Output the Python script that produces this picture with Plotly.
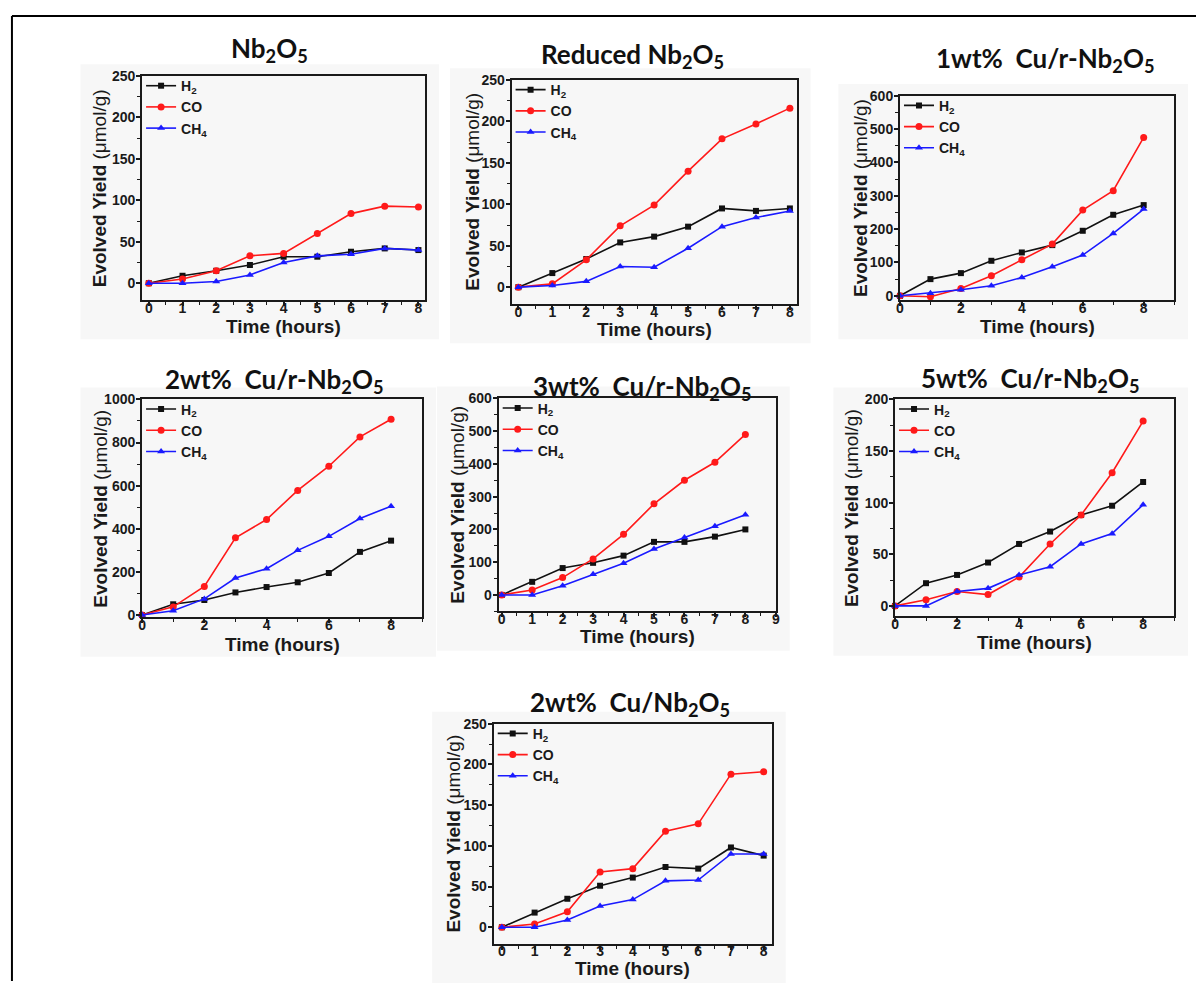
import plotly.graph_objects as go

# ---- data: cumulative evolved yield (umol/g) vs irradiation time (h) ----
hours = [0, 1, 2, 3, 4, 5, 6, 7, 8]

nb2o5_h2 = [0, 9, 15, 22, 32, 32, 38, 42, 40]
nb2o5_co = [0, 5, 15, 33, 36, 60, 84, 93, 92]
nb2o5_ch4 = [0, 0, 2, 10, 25, 33, 35, 42, 40]

reduced_h2 = [0, 17, 34, 54, 61, 73, 95, 92, 95]
reduced_co = [0, 4, 33, 74, 99, 140, 179, 197, 216]
reduced_ch4 = [0, 2, 7, 25, 24, 47, 73, 84, 92]

cu1_h2 = [0, 50, 68, 105, 130, 152, 195, 243, 272]
cu1_co = [0, -3, 22, 60, 108, 155, 257, 315, 475]
cu1_ch4 = [0, 8, 18, 30, 55, 87, 122, 187, 260]

cu2_h2 = [0, 50, 70, 105, 130, 152, 195, 293, 345]
cu2_co = [0, 38, 133, 358, 443, 578, 690, 826, 908]
cu2_ch4 = [0, 20, 75, 172, 215, 300, 365, 448, 505]

cu3_h2 = [0, 40, 82, 98, 120, 162, 162, 178, 200]
cu3_co = [0, 15, 53, 110, 185, 278, 350, 405, 490]
cu3_ch4 = [0, 0, 28, 63, 97, 140, 175, 210, 245]

cu5_h2 = [0, 22, 30, 42, 60, 72, 88, 97, 120]
cu5_co = [0, 6, 14, 11, 28, 60, 88, 129, 179]
cu5_ch4 = [0, 0, 14, 17, 30, 38, 60, 70, 98]

cu2_unreduced_h2 = [0, 18, 35, 51, 61, 74, 72, 98, 88]
cu2_unreduced_co = [0, 4, 19, 68, 72, 118, 127, 188, 191]
cu2_unreduced_ch4 = [0, 0, 9, 26, 34, 57, 58, 90, 90]

panel_titles = [
    "Nb<sub>2</sub>O<sub>5</sub>",
    "Reduced Nb<sub>2</sub>O<sub>5</sub>",
    "1wt%\u00a0 Cu/r-Nb<sub>2</sub>O<sub>5</sub>",
    "2wt%\u00a0 Cu/r-Nb<sub>2</sub>O<sub>5</sub>",
    "3wt%\u00a0 Cu/r-Nb<sub>2</sub>O<sub>5</sub>",
    "5wt%\u00a0 Cu/r-Nb<sub>2</sub>O<sub>5</sub>",
    "2wt%\u00a0 Cu/Nb<sub>2</sub>O<sub>5</sub>",
]
panel_series = [
    (nb2o5_h2, nb2o5_co, nb2o5_ch4),
    (reduced_h2, reduced_co, reduced_ch4),
    (cu1_h2, cu1_co, cu1_ch4),
    (cu2_h2, cu2_co, cu2_ch4),
    (cu3_h2, cu3_co, cu3_ch4),
    (cu5_h2, cu5_co, cu5_ch4),
    (cu2_unreduced_h2, cu2_unreduced_co, cu2_unreduced_ch4),
]
gas_names = ["H<sub>2</sub>", "CO", "CH<sub>4</sub>"]
x_title = "Time (hours)"
y_title = "<b>Evolved Yield</b> (\u03bcmol/g)"

# axis ranges and tick steps per panel
x_ranges = [[-0.2, 8.2], [-0.2, 8.2], [0, 9], [0, 9], [-0.1, 9], [0, 9], [-0.25, 8.25]]
x_dticks = [1, 1, 2, 2, 1, 2, 1]
y_ranges = [[-20, 250], [-20, 250], [-12, 600], [-10, 1000], [-50, 600], [-10, 200], [-20, 250]]
y_dticks = [50, 50, 100, 200, 100, 50, 50]

# ---- layout geometry (pixels): plot box left, top, right, bottom ----
W, H = 1200, 987
boxes = [
    (139, 69, 424, 296),
    (511, 73, 798, 300),
    (902, 89, 1178, 296),
    (139, 397, 421, 618),
    (498, 396, 777, 612),
    (897, 397, 1178, 617),
    (493, 726, 773, 949),
]
title_pos = [(267, 42), (633, 48), (1048, 52), (272, 378), (642, 385), (1033, 377), (630, 705)]
xtitle_gap = [27, 26, 27, 28, 26, 27, 25]
ytitle_gap = [42, 39, 39, 42, 41, 44, 40]

line_styles = [
    dict(color="#111111", symbol="square", size=6),
    dict(color="#ff1a1a", symbol="circle", size=7),
    dict(color="#1a1aff", symbol="triangle-up", size=7),
]

AXIS_FONT = "Liberation Sans"
TITLE_FONT = "Lato"
INK = "#1a1a1a"


def fx(px):
    return px / W


def fy(py):
    return 1 - py / H


fig = go.Figure()
layout = dict(
    width=W, height=H,
    margin=dict(l=0, r=0, t=0, b=0),
    paper_bgcolor="white", plot_bgcolor="rgba(0,0,0,0)",
    showlegend=True,
)
shapes = []
annotations = []

for i, (box, title, series) in enumerate(zip(boxes, panel_titles, panel_series)):
    n = i + 1
    left, top, right, bottom = box
    xa = "xaxis" if n == 1 else f"xaxis{n}"
    ya = "yaxis" if n == 1 else f"yaxis{n}"
    xref = "x" if n == 1 else f"x{n}"
    yref = "y" if n == 1 else f"y{n}"
    lg = "legend" if n == 1 else f"legend{n}"

    # faint backdrop behind each panel
    shapes.append(dict(type="rect", xref="paper", yref="paper",
                       x0=fx(left - 62), x1=fx(right + 14),
                       y0=fy(bottom + 40), y1=fy(top - 12),
                       fillcolor="#f7f7f7", line=dict(width=0), layer="below"))

    common = dict(showline=True, linecolor=INK, linewidth=2, mirror=True,
                  ticks="outside", ticklen=4, tickwidth=1.5, tickcolor=INK,
                  showgrid=False, zeroline=False, fixedrange=True,
                  tickfont=dict(family=AXIS_FONT, size=14, weight="bold", color=INK))
    layout[xa] = dict(common, domain=[fx(left), fx(right)], range=x_ranges[i],
                      anchor=yref, tick0=0, dtick=x_dticks[i], ticklabelstandoff=-10,
                      minor=dict(ticks="outside", ticklen=3, tickwidth=1.2,
                                 tickcolor=INK, dtick=x_dticks[i] / 2, showgrid=False))
    layout[ya] = dict(common, domain=[fy(bottom), fy(top)], range=y_ranges[i],
                      anchor=xref, tick0=0, dtick=y_dticks[i], ticklabelstandoff=-2,
                      minor=dict(ticks="outside", ticklen=3, tickwidth=1.2,
                                 tickcolor=INK, dtick=y_dticks[i] / 2, showgrid=False))

    layout[lg] = dict(x=fx(left - 1), y=fy(top - 6), xanchor="left", yanchor="top",
                      bgcolor="rgba(0,0,0,0)", borderwidth=0,
                      font=dict(family=AXIS_FONT, size=14, weight="bold", color=INK),
                      itemwidth=30, tracegroupgap=0, traceorder="normal")

    for name, ys, st in zip(gas_names, series, line_styles):
        fig.add_trace(go.Scatter(
            x=hours, y=ys, name=name, mode="lines+markers",
            xaxis=xref, yaxis=yref, legend=lg, cliponaxis=False,
            line=dict(color=st["color"], width=1.6),
            marker=dict(color=st["color"], symbol=st["symbol"], size=st["size"]),
        ))

    # panel title
    annotations.append(dict(text=title, xref="paper", yref="paper",
                            x=fx(title_pos[i][0]), y=fy(title_pos[i][1]),
                            xanchor="center", yanchor="middle", showarrow=False,
                            font=dict(family=TITLE_FONT, size=26, weight="bold", color="#111")))
    # axis titles
    annotations.append(dict(text=x_title, xref="paper", yref="paper",
                            x=fx((left + right) / 2), y=fy(bottom + xtitle_gap[i]),
                            xanchor="center", yanchor="middle", showarrow=False,
                            font=dict(family=AXIS_FONT, size=19, weight="bold", color=INK)))
    annotations.append(dict(text=y_title, xref="paper", yref="paper",
                            x=fx(left - ytitle_gap[i]), y=fy((top + bottom) / 2),
                            xanchor="center", yanchor="middle", textangle=-90, showarrow=False,
                            font=dict(family=AXIS_FONT, size=19, color=INK)))

# outer frame (left and top edges)
shapes.append(dict(type="line", xref="paper", yref="paper",
                   x0=fx(8), x1=fx(8), y0=0, y1=fy(8), line=dict(color="black", width=2)))
shapes.append(dict(type="line", xref="paper", yref="paper",
                   x0=fx(8), x1=1, y0=fy(8), y1=fy(8), line=dict(color="black", width=2)))

layout["shapes"] = shapes
layout["annotations"] = annotations
fig.update_layout(**layout)

fig.write_html("out.html")
